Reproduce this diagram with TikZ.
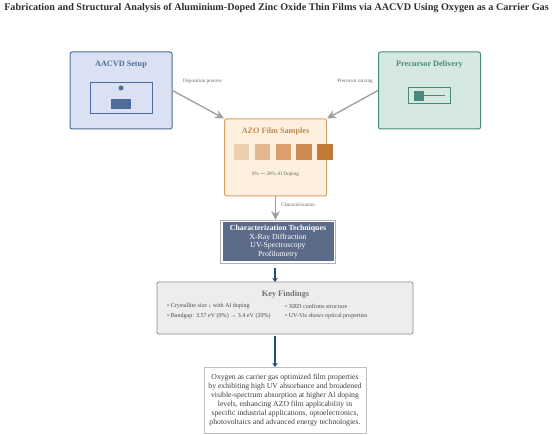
\documentclass[tikz,border=0pt]{standalone}
\usepackage{fontspec}
\setmainfont{Liberation Serif}
\usepackage{xcolor}
\definecolor{cBlue}{HTML}{4F6D9A}
\definecolor{cBlueFill}{HTML}{DAE1F3}
\definecolor{cGreen}{HTML}{4A8A7C}
\definecolor{cGreenFill}{HTML}{D6E9E0}
\definecolor{cOrange}{HTML}{D9A066}
\definecolor{cOrangeText}{HTML}{BF8A50}
\definecolor{cOrangeFill}{HTML}{FDF0DE}
\definecolor{cSlate}{HTML}{5D6B8A}
\definecolor{cGray}{HTML}{8C8C8C}
\definecolor{cNavy}{HTML}{1F4E79}
\definecolor{cTitle}{HTML}{2E2E2E}
\definecolor{cDopeA}{HTML}{EBCFB0}
\definecolor{cDopeB}{HTML}{E3B88E}
\definecolor{cDopeC}{HTML}{D9A06E}
\definecolor{cDopeD}{HTML}{CC8A52}
\definecolor{cDopeE}{HTML}{C27A35}
\usetikzlibrary{positioning,arrows.meta}
\tikzset{
  node-card/.style={draw,line width=1pt,rounded corners=2pt,inner sep=0pt,
    minimum width=102pt,minimum height=77pt},
  node-head/.style={font=\fontsize{8.2}{10}\selectfont\bfseries,inner sep=0pt},
  node-swatch/.style={inner sep=0pt,minimum width=15.5pt,minimum height=15.5pt},
  node-note/.style={font=\fontsize{5.1}{6}\selectfont,text=black!60,inner sep=0pt},
  node-find/.style={font=\fontsize{6.05}{7}\selectfont,text=black!70,inner sep=0pt,anchor=west},
  arrow-gray/.style={-{Stealth[length=9pt,width=8.5pt]},line width=1.3pt,draw=black!38},
  arrow-navy/.style={-{Stealth[length=4pt,width=5.5pt]},line width=2pt,draw=cNavy},
}
\begin{document}
\begin{tikzpicture}[x=1pt,y=-1pt]
  \useasboundingbox (0,0) rectangle (553,435);
  \node[font=\fontsize{10.15}{12}\selectfont\bfseries,text=cTitle,inner sep=0pt] (title) at (276.5,8.5)
    {Fabrication and Structural Analysis of Aluminium-Doped Zinc Oxide Thin Films via AACVD Using Oxygen as a Carrier Gas};
  % top row
  \node[node-card,draw=cBlue,fill=cBlueFill] (setup) at (121,90.5) {};
  \node[node-card,draw=cGreen,fill=cGreenFill] (delivery) at (429.5,90.5) {};
  \node[node-card,draw=cOrange,fill=cOrangeFill] (azo) at (275.5,157.5) {};
  \node[node-head,text=cBlue] (setuphead) at (121,65) {AACVD Setup};
  \node[node-head,text=cGreen] (deliveryhead) at (429.5,65) {Precursor Delivery};
  \node[node-head,text=cOrangeText] (azohead) at (275.5,131.5) {AZO Film Samples};
  % setup icon
  \node[draw=cBlue,line width=1pt,minimum width=62pt,minimum height=31pt,inner sep=0pt] (chamber) at (121,98.5) {};
  \node[circle,fill=cBlue,minimum size=5pt,inner sep=0pt] (dot) at (121,88) {};
  \node[fill=cBlue,minimum width=20pt,minimum height=10pt,inner sep=0pt] (stage) at (121,104) {};
  % delivery icon
  \node[draw=cGreen,line width=1pt,minimum width=42pt,minimum height=16pt,inner sep=0pt] (tube) at (429.5,96) {};
  \node[fill=cGreen,minimum size=10pt,inner sep=0pt] (plug) at (419,96) {};
  \coordinate (tubeend) at (445,96);
  \draw[cGreen,line width=1pt] (plug) -- (tubeend);
  % doping series
  \node[node-swatch,fill=cDopeA] (s0) at (241.5,152) {};
  \node[node-swatch,fill=cDopeB,right=5pt of s0] (s1) {};
  \node[node-swatch,fill=cDopeC,right=5pt of s1] (s2) {};
  \node[node-swatch,fill=cDopeD,right=5pt of s2] (s3) {};
  \node[node-swatch,fill=cDopeE,right=5pt of s3] (s4) {};
  \node[node-note] (doping) at (275.5,174) {0\% \textbf{---} 20\% Al Doping};
  % techniques
  \node[draw=black!30,fill=white,line width=.6pt,minimum width=115pt,minimum height=43pt,inner sep=0pt] (tech) at (278,241.5) {};
  \node[fill=cSlate,text=white,align=center,minimum width=111pt,minimum height=39pt,inner sep=0pt,
    font=\fontsize{7.8}{8.7}\selectfont] (techbox) at (tech) {\textbf{Characterization Techniques}\\X-Ray Diffraction\\UV-Spectroscopy\\Profilometry};
  % findings
  \node[draw=cGray,fill=black!7,line width=.8pt,rounded corners=2pt,minimum width=256pt,minimum height=52pt,inner sep=0pt] (findings) at (285,308) {};
  \node[node-head,font=\fontsize{8.3}{10}\selectfont\bfseries,text=black!55] (findhead) at (285.5,295) {Key Findings};
  \node[node-find] (f1) at (167,306) {• Crystallite size ↓ with Al doping};
  \node[node-find] (f2) at (167,316.5) {• Bandgap: 3.57 eV (0\%) → 3.4 eV (20\%)};
  \node[node-find] (f3) at (285,306) {• XRD confirms structure};
  \node[node-find] (f4) at (285,316.5) {• UV-Vis shows optical properties};
  % conclusion
  \node[draw=black!25,fill=white,line width=.6pt,minimum width=162pt,minimum height=66pt,inner sep=0pt,align=center,
    font=\fontsize{7.7}{9}\selectfont,text=black!75] (result) at (285,400)
    {Oxygen as carrier gas optimized film properties\\by exhibiting high UV absorbance and broadened\\visible-spectrum absorption at higher Al doping\\levels, enhancing AZO film applicability in\\specific industrial applications, optoelectronics,\\photovoltaics and advanced energy technologies.};
  % connectors
  \coordinate (techin) at (275.5,220);
  \coordinate (techout) at (275,264);
  \coordinate (findin) at (275,282);
  \coordinate (findout) at (275,334);
  \coordinate (resultin) at (275,367);
  \draw[arrow-gray] (setup.east) -- (azo.north west);
  \draw[arrow-gray] (delivery.west) -- (azo.north east);
  \draw[arrow-gray] (azo.south) -- (techin);
  \draw[arrow-navy,shorten <=4pt] (techout) -- (findin);
  \draw[arrow-navy,shorten <=2pt] (findout) -- (resultin);
  \node[node-note] (l1) at (202.5,81) {Deposition process};
  \node[node-note] (l2) at (355,81) {Precursor mixing};
  \node[node-note] (l3) at (298,205) {Characterization};
\end{tikzpicture}
\end{document}
